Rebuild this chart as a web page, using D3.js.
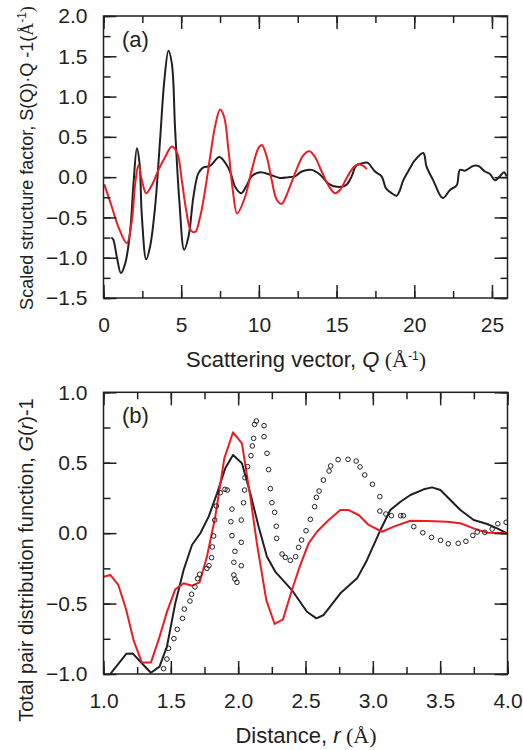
<!DOCTYPE html>
<html>
<head>
<meta charset="utf-8">
<script src="https://cdn.jsdelivr.net/npm/d3@7/dist/d3.min.js"></script>
<style>
  body { margin: 0; background: #fff; }
  text { font-family: "Liberation Sans", Arial, sans-serif; fill: #231f20; }
  .serif { font-family: "Liberation Serif", "Times New Roman", serif; }
</style>
</head>
<body>
<svg id="chart" width="523" height="750"></svg>
<script>
// panel (a): scaled structure factor S(Q)*Q - 1
const sqBlack = [
  [0.5,-0.75],[0.62,-0.77],[0.86,-0.99],[1.12,-1.19],[1.40,-1.07],[1.72,-0.66],[1.93,-0.08],
  [2.15,0.36],[2.32,0.17],[2.47,-0.49],[2.75,-1.02],[3.0,-0.86],[3.32,-0.37],[3.64,0.46],
  [3.92,1.21],[4.18,1.57],[4.40,1.41],[4.61,0.59],[4.89,-0.32],[5.19,-0.90],[5.47,-0.74],
  [5.79,-0.24],[6.11,0.05],[6.43,0.12],[6.86,0.14],[7.46,0.25],[7.93,0.15],[8.2,0.04],[8.47,-0.12],
  [8.86,-0.20],[9.22,-0.10],[9.54,0.01],[10.08,0.06],[10.72,0.03],[11.36,-0.01],[11.9,0.0],
  [12.33,0.01],[12.76,0.07],[13.4,0.09],[13.94,0.03],[14.47,-0.08],[15.01,-0.12],[15.61,-0.10],
  [15.97,0.01],[16.25,0.14],[16.62,0.17],[16.98,0.18],[17.47,0.07],[17.9,0.01],[18.18,-0.14],
  [18.55,-0.20],[18.87,-0.23],[19.08,-0.16],[19.29,-0.04],[19.72,0.11],[20.04,0.21],[20.58,0.30],
  [20.79,0.13],[21.22,-0.04],[21.83,-0.26],[22.3,-0.16],[22.73,-0.10],[22.94,0.09],[23.26,0.08],
  [23.8,0.14],[24.12,0.14],[24.55,0.07],[24.87,0.04],[25.19,-0.04],[25.51,0.01],[25.77,0.06],[25.94,0.01]
];
const sqRed = [
  [0.05,-0.09],[0.54,-0.37],[0.96,-0.62],[1.5,-0.82],[1.83,-0.53],[2.04,-0.08],[2.25,0.15],
  [2.47,-0.04],[2.75,-0.2],[3.11,-0.1],[3.54,0.09],[3.97,0.25],[4.4,0.38],[4.76,0.29],[5.04,-0.04],
  [5.32,-0.41],[5.62,-0.66],[5.9,-0.68],[6.22,-0.49],[6.54,-0.16],[6.86,0.25],[7.18,0.63],[7.5,0.84],
  [7.76,0.75],[8.04,0.34],[8.32,-0.16],[8.6,-0.45],[9.12,-0.24],[9.54,0.09],[9.97,0.36],
  [10.19,0.40],[10.51,0.25],[10.83,-0.04],[11.15,-0.28],[11.47,-0.33],[11.79,-0.22],[12.33,0.05],
  [12.86,0.27],[13.25,0.32],[13.61,0.25],[14.04,0.07],[14.47,-0.10],[14.90,-0.20],[15.22,-0.16],
  [15.65,-0.01],[16.08,0.12],[16.4,0.16],[16.72,0.14],[16.94,0.10]
];

// panel (b): total pair distribution function G(r)-1
const grBlack = [
  [1.0,-1.06],[1.05,-1.0],[1.169,-0.857],[1.218,-0.855],[1.297,-0.936],[1.352,-0.991],[1.416,-0.948],
  [1.471,-0.806],[1.533,-0.498],[1.595,-0.262],[1.657,-0.084],[1.719,-0.001],[1.781,0.117],
  [1.843,0.283],[1.904,0.46],[1.962,0.555],[2.028,0.496],[2.09,0.283],[2.152,0.046],[2.214,-0.167],
  [2.275,-0.273],[2.399,-0.404],[2.511,-0.558],[2.581,-0.605],[2.635,-0.581],[2.759,-0.427],
  [2.883,-0.321],[2.957,-0.19],[3.056,0.022],[3.13,0.164],[3.205,0.223],[3.279,0.271],[3.378,0.311],
  [3.44,0.325],[3.502,0.306],[3.576,0.235],[3.65,0.164],[3.749,0.093],[3.849,0.065],[3.923,0.034],[3.997,-0.001]
];
const grRed = [
  [1.0,-0.309],[1.05,-0.297],[1.11,-0.368],[1.169,-0.546],[1.223,-0.759],[1.285,-0.919],[1.352,-0.919],
  [1.409,-0.758],[1.471,-0.559],[1.533,-0.399],[1.595,-0.356],[1.657,-0.373],[1.714,-0.349],
  [1.768,-0.167],[1.83,0.117],[1.897,0.531],[1.962,0.716],[2.028,0.638],[2.09,0.259],[2.139,-0.072],
  [2.209,-0.475],[2.271,-0.645],[2.333,-0.612],[2.399,-0.404],[2.457,-0.238],[2.523,-0.072],
  [2.585,0.01],[2.672,0.093],[2.759,0.164],[2.821,0.164],[2.895,0.129],[2.969,0.058],[3.069,0.01],
  [3.155,0.046],[3.279,0.088],[3.403,0.086],[3.551,0.081],[3.65,0.07],[3.749,0.034],[3.849,0.003],[3.997,-0.001]
];
const grDots = [
  [1.446,-0.962],[1.471,-0.894],[1.483,-0.818],[1.523,-0.749],[1.548,-0.683],[1.587,-0.605],
  [1.600,-0.539],[1.642,-0.482],[1.654,-0.434],[1.679,-0.382],[1.699,-0.323],[1.714,-0.292],
  [1.768,-0.250],[1.783,-0.231],[1.803,-0.174],[1.808,-0.098],[1.818,-0.020],[1.826,0.093],
  [1.838,0.193],[1.867,0.287],[1.902,0.311],[1.919,0.306],[1.954,0.171],[1.946,0.081],[1.954,-0.018],
  [1.976,-0.129],[1.968,-0.207],[1.968,-0.297],[1.976,-0.326],[1.991,-0.349],[2.023,0.093],
  [2.023,-0.065],[2.023,-0.231],[2.040,0.216],[2.048,0.306],[2.050,0.394],[2.070,0.472],[2.095,0.550],
  [2.105,0.619],[2.115,0.673],[2.122,0.772],[2.135,0.796],[2.192,0.763],[2.192,0.685],[2.214,0.567],
  [2.226,0.451],[2.239,0.316],[2.251,0.216],[2.271,0.148],[2.283,0.049],[2.286,-0.037],[2.326,-0.148],
  [2.350,-0.172],[2.387,-0.193],[2.427,-0.167],[2.449,-0.101],[2.471,-0.049],[2.504,0.017],
  [2.536,0.098],[2.568,0.188],[2.581,0.254],[2.601,0.299],[2.633,0.377],[2.675,0.441],[2.687,0.477],
  [2.742,0.522],[2.816,0.524],[2.876,0.512],[2.905,0.470],[2.940,0.413],[2.997,0.347],[3.052,0.259],
  [3.052,0.157],[3.097,0.136],[3.138,0.124],[3.207,0.124],[3.227,0.124],[3.304,0.046],[3.371,0.003],
  [3.436,-0.030],[3.503,-0.051],[3.560,-0.075],[3.634,-0.072],[3.691,-0.058],[3.743,-0.016],
  [3.775,0.008],[3.832,0.006],[3.886,0.029],[3.928,0.067],[3.990,0.077]
];

const qMajor = [0, 5, 10, 15, 20, 25];
const qMinor = d3.range(0, 26.01, 2.5);
const sqMajor = [-1.5, -1.0, -0.5, 0.0, 0.5, 1.0, 1.5, 2.0];
const sqMinor = d3.range(-1.5, 2.001, 0.25);
const rMajor = [1.0, 1.5, 2.0, 2.5, 3.0, 3.5, 4.0];
const rMinor = d3.range(1.0, 4.001, 0.25);
const grMajor = [-1.0, -0.5, 0.0, 0.5, 1.0];
const grMinor = d3.range(-1.0, 1.001, 0.25);

const red = '#ed1c24';
const black = '#231f20';
const left = 103.5, right = 507.5;

const svg = d3.select('#chart');

function drawPanel(cfg) {
  const x = d3.scaleLinear().domain(cfg.xDomain).range([left, right]);
  const y = d3.scaleLinear().domain(cfg.yDomain).range([cfg.bottom, cfg.top]);
  const g = svg.append('g');

  g.append('clipPath').attr('id', cfg.id)
    .append('rect')
    .attr('x', left).attr('y', cfg.top)
    .attr('width', right - left).attr('height', cfg.bottom - cfg.top);

  const plot = g.append('g').attr('clip-path', `url(#${cfg.id})`);
  const line = d3.line()
    .x((d) => x(d[0]))
    .y((d) => y(d[1]))
    .curve(cfg.curve);

  cfg.lines.forEach(([data, color]) => {
    plot.append('path')
      .datum(data)
      .attr('d', line)
      .attr('fill', 'none')
      .attr('stroke', color)
      .attr('stroke-width', 2)
      .attr('stroke-linejoin', 'round');
  });

  if (cfg.dots) {
    plot.selectAll('circle')
      .data(cfg.dots)
      .join('circle')
      .attr('cx', (d) => x(d[0]))
      .attr('cy', (d) => y(d[1]))
      .attr('r', 2.3)
      .attr('fill', 'none')
      .attr('stroke', black)
      .attr('stroke-width', 1);
  }

  // [axis, transform, major, minor, label format or null, padding]
  const axes = [
    [d3.axisBottom(x), `translate(0,${cfg.bottom})`, cfg.xMajor, cfg.xMinor, cfg.xFmt, 19],
    [d3.axisTop(x), `translate(0,${cfg.top})`, cfg.xMajor, cfg.xMinor, null, 0],
    [d3.axisLeft(y), `translate(${left},0)`, cfg.yMajor, cfg.yMinor, cfg.yFmt, 16],
    [d3.axisRight(y), `translate(${right},0)`, cfg.yMajor, cfg.yMinor, null, 0],
  ];
  axes.forEach(([axis, tr, major, minor, fmt, pad]) => {
    const a = g.append('g').attr('transform', tr);
    a.call(axis.tickValues(minor).tickSize(-7).tickSizeOuter(0).tickFormat(() => ''));
    a.select('.domain').remove();
    const b = g.append('g').attr('transform', tr);
    b.call(axis.tickValues(major).tickSize(-13).tickSizeOuter(0)
      .tickPadding(pad)
      .tickFormat(fmt || (() => '')));
    b.select('.domain').remove();
    b.selectAll('text').style('font-size', '21px').attr('fill', black);
  });
  g.selectAll('.tick line').attr('stroke', black).attr('stroke-width', 1.5);

  g.append('rect')
    .attr('x', left).attr('y', cfg.top)
    .attr('width', right - left).attr('height', cfg.bottom - cfg.top)
    .attr('fill', 'none').attr('stroke', black).attr('stroke-width', 1.5);

  g.append('text')
    .attr('x', 122).attr('y', cfg.top + 31)
    .style('font-size', '22px')
    .text(cfg.tag);
}

drawPanel({
  id: 'clipA', xDomain: [0, 26], yDomain: [-1.5, 2.0], top: 16, bottom: 298,
  xMajor: qMajor, xMinor: qMinor, yMajor: sqMajor, yMinor: sqMinor,
  xFmt: d3.format('d'), yFmt: d3.format('.1f'),
  lines: [[sqBlack, black], [sqRed, red]], curve: d3.curveCatmullRom.alpha(0.5), tag: '(a)'
});

drawPanel({
  id: 'clipB', xDomain: [1, 4], yDomain: [-1, 1], top: 392.3, bottom: 674,
  xMajor: rMajor, xMinor: rMinor, yMajor: grMajor, yMinor: grMinor,
  xFmt: d3.format('.1f'), yFmt: d3.format('.1f'),
  lines: [[grBlack, black], [grRed, red]], dots: grDots, curve: d3.curveLinear, tag: '(b)'
});

// axis titles
function title(x, y, rotate, size, parts) {
  const t = svg.append('text')
    .attr('transform', `translate(${x},${y})${rotate ? ' rotate(-90)' : ''}`)
    .attr('text-anchor', 'middle')
    .style('font-size', size + 'px');
  parts.forEach((p) => {
    const s = t.append('tspan').text(p.t);
    if (p.i) s.style('font-style', 'italic');
    if (p.serif) s.attr('class', 'serif');
    if (p.sup) s.attr('baseline-shift', 'super').style('font-size', '12px');
  });
}

title(306, 367, false, 22, [
  { t: 'Scattering vector, ' }, { t: 'Q', i: true }, { t: ' (Å', serif: true },
  { t: '-1', sup: true }, { t: ')', serif: true }
]);
title(33, 158, true, 18, [
  { t: 'Scaled structure factor, S(Q)·Q -1(' }, { t: 'Å', serif: true },
  { t: '-1', sup: true }, { t: ')', serif: true }
]);
title(306, 743, false, 22, [
  { t: 'Distance, ' }, { t: 'r', i: true }, { t: ' (Å)', serif: true }
]);
title(33, 560, true, 20, [
  { t: 'Total pair distribution function, ' }, { t: 'G', i: true }, { t: '(' },
  { t: 'r', i: true }, { t: ')-1' }
]);
</script>
</body>
</html>
